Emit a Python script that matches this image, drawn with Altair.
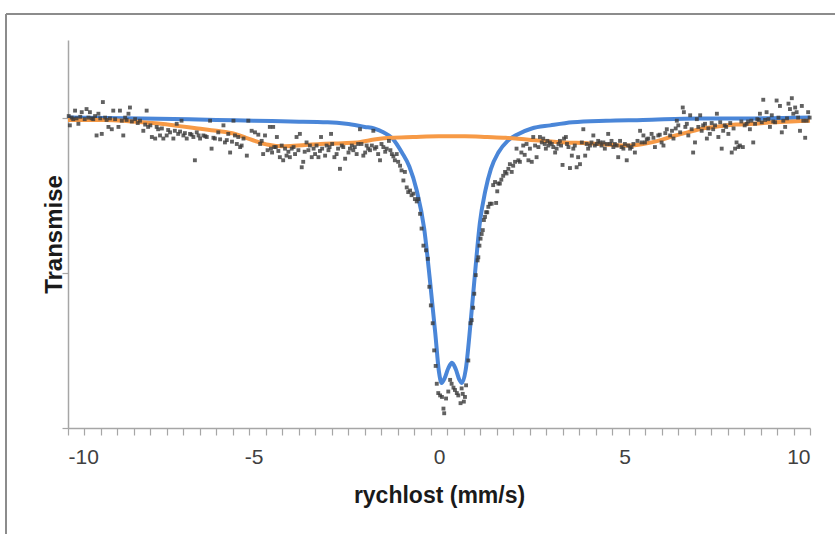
import altair as alt
import pandas as pd

# Measured spectrum (velocity mm/s, relative transmission %)
SCATTER_V = [
    -9.98, -9.95, -9.90, -9.86, -9.81, -9.77, -9.72, -9.67, -9.63, -9.55, -9.50, -9.45, -9.41, -9.36, -9.32,
    -9.27, -9.23, -9.18, -9.13, -9.09, -9.06, -9.00, -8.96, -8.91, -8.87, -8.82, -8.78, -8.73, -8.64, -8.60,
    -8.55, -8.51, -8.46, -8.42, -8.37, -8.33, -8.28, -8.19, -8.12, -8.06, -7.97, -7.92, -7.88, -7.84, -7.78,
    -7.74, -7.65, -7.61, -7.57, -7.52, -7.47, -7.43, -7.34, -7.30, -7.25, -7.16, -7.12, -7.07, -7.03, -6.98,
    -6.94, -6.89, -6.85, -6.80, -6.71, -6.67, -6.62, -6.58, -6.53, -6.48, -6.44, -6.35, -6.30, -6.26, -6.17,
    -6.13, -6.08, -6.04, -5.95, -5.90, -5.81, -5.77, -5.72, -5.68, -5.63, -5.58, -5.54, -5.50, -5.45, -5.41,
    -5.36, -5.32, -5.27, -5.18, -5.14, -5.05, -4.96, -4.87, -4.82, -4.78, -4.74, -4.69, -4.62, -4.56, -4.53,
    -4.50, -4.47, -4.44, -4.40, -4.37, -4.33, -4.29, -4.24, -4.20, -4.15, -4.11, -4.06, -4.02, -3.97, -3.92,
    -3.88, -3.84, -3.79, -3.75, -3.70, -3.66, -3.62, -3.57, -3.52, -3.48, -3.43, -3.38, -3.34, -3.30, -3.25,
    -3.21, -3.18, -3.15, -3.07, -3.03, -2.98, -2.95, -2.91, -2.88, -2.82, -2.76, -2.72, -2.67, -2.62, -2.58,
    -2.53, -2.44, -2.40, -2.35, -2.31, -2.27, -2.22, -2.18, -2.13, -2.09, -2.04, -1.99, -1.95, -1.91, -1.86,
    -1.81, -1.77, -1.73, -1.69, -1.64, -1.59, -1.55, -1.50, -1.45, -1.41, -1.35, -1.31, -1.27, -1.23, -1.19,
    -1.14, -1.10, -1.05, -1.01, -0.96, -0.92, -0.87, -0.83, -0.78, -0.74, -0.69, -0.65, -0.60, -0.56, -0.51,
    -0.47, -0.42, -0.35, -0.30, -0.26, -0.22, -0.17, -0.13, -0.09, -0.06, -0.02, 0.03, 0.08, 0.12, 0.14,
    0.19, 0.25, 0.30, 0.34, 0.39, 0.43, 0.48, 0.52, 0.58, 0.61, 0.64, 0.67, 0.70, 0.73, 0.79,
    0.85, 0.88, 0.92, 0.95, 0.99, 1.04, 1.06, 1.09, 1.12, 1.15, 1.18, 1.21, 1.24, 1.27, 1.30,
    1.33, 1.37, 1.42, 1.46, 1.51, 1.54, 1.57, 1.60, 1.64, 1.68, 1.73, 1.78, 1.82, 1.87, 1.91,
    1.96, 2.00, 2.05, 2.09, 2.14, 2.18, 2.22, 2.27, 2.31, 2.36, 2.41, 2.45, 2.50, 2.54, 2.59,
    2.63, 2.68, 2.72, 2.77, 2.81, 2.85, 2.88, 2.92, 2.95, 2.99, 3.04, 3.08, 3.13, 3.17, 3.22,
    3.26, 3.29, 3.33, 3.37, 3.42, 3.45, 3.49, 3.53, 3.58, 3.62, 3.66, 3.71, 3.75, 3.80, 3.85,
    3.89, 3.94, 3.98, 4.02, 4.07, 4.11, 4.16, 4.20, 4.25, 4.29, 4.34, 4.38, 4.43, 4.47, 4.52,
    4.56, 4.61, 4.65, 4.70, 4.74, 4.79, 4.83, 4.88, 4.92, 4.97, 5.01, 5.06, 5.10, 5.15, 5.19,
    5.24, 5.28, 5.35, 5.42, 5.46, 5.51, 5.55, 5.60, 5.64, 5.73, 5.78, 5.82, 5.91, 5.95, 6.00,
    6.05, 6.10, 6.14, 6.23, 6.28, 6.32, 6.38, 6.41, 6.45, 6.50, 6.57, 6.60, 6.64, 6.68, 6.72,
    6.77, 6.81, 6.85, 6.90, 6.95, 6.99, 7.04, 7.08, 7.12, 7.17, 7.22, 7.26, 7.30, 7.35, 7.39,
    7.44, 7.49, 7.53, 7.58, 7.62, 7.66, 7.70, 7.74, 7.80, 7.85, 7.89, 7.94, 7.98, 8.02, 8.07,
    8.11, 8.15, 8.19, 8.24, 8.29, 8.33, 8.38, 8.42, 8.47, 8.52, 8.58, 8.62, 8.65, 8.70, 8.74,
    8.79, 8.83, 8.88, 8.92, 8.97, 9.01, 9.06, 9.10, 9.15, 9.19, 9.24, 9.28, 9.33, 9.38, 9.42,
    9.46, 9.51, 9.55, 9.60, 9.64, 9.68, 9.73, 9.78, 9.82, 9.87, 9.91, 9.95, 9.99,
]
SCATTER_T = [
    100.02, 99.90, 100.00, 99.98, 100.09, 99.99, 99.92, 100.01, 100.07, 99.98, 100.11, 100.00, 100.07, 99.99, 99.98,
    100.02, 99.77, 100.05, 99.99, 99.79, 100.20, 100.00, 99.97, 99.88, 99.99, 99.85, 100.09, 99.98, 99.88, 100.09,
    99.96, 99.77, 100.00, 99.97, 100.05, 100.13, 99.95, 99.98, 99.93, 99.96, 99.83, 99.91, 100.09, 99.88, 99.90,
    99.75, 99.73, 99.88, 99.85, 99.77, 99.86, 99.73, 99.77, 99.84, 99.81, 99.73, 99.83, 99.92, 99.79, 99.82,
    99.96, 99.77, 99.80, 99.73, 99.79, 99.78, 99.75, 99.45, 99.81, 99.77, 99.73, 99.77, 99.76, 99.75, 99.96,
    99.60, 99.74, 99.73, 99.81, 99.72, 99.90, 99.68, 99.71, 99.79, 99.55, 99.69, 99.96, 99.77, 99.66, 99.75,
    99.62, 99.64, 99.73, 99.51, 99.96, 99.83, 99.81, 99.78, 99.66, 99.70, 99.53, 99.77, 99.58, 99.88, 99.60,
    99.55, 99.88, 99.62, 99.62, 99.75, 99.57, 99.49, 99.64, 99.45, 99.60, 99.51, 99.56, 99.49, 99.60, 99.62,
    99.53, 99.75, 99.58, 99.79, 99.36, 99.43, 99.56, 99.68, 99.58, 99.64, 99.49, 99.60, 99.53, 99.64, 99.49,
    99.57, 99.75, 99.60, 99.51, 99.64, 99.58, 99.62, 99.79, 99.66, 99.49, 99.53, 99.60, 99.34, 99.64, 99.62,
    99.47, 99.55, 99.60, 99.64, 99.58, 99.62, 99.53, 99.66, 99.85, 99.66, 99.51, 99.55, 99.64, 99.60, 99.58,
    99.64, 99.83, 99.60, 99.62, 99.53, 99.45, 99.66, 99.62, 99.56, 99.60, 99.70, 99.58, 99.53, 99.50, 99.45,
    99.53, 99.43, 99.38, 99.32, 99.19, 99.30, 99.10, 99.04, 99.06, 99.00, 99.02, 98.95, 98.92, 98.95, 98.76,
    98.57, 98.35, 98.29, 98.18, 97.82, 97.58, 97.35, 97.00, 96.80, 96.57, 96.45, 96.42, 96.40, 96.25, 96.19,
    96.38, 96.47, 96.62, 96.57, 96.52, 96.49, 96.45, 96.42, 96.32, 96.51, 96.44, 96.34, 96.40, 96.55, 96.87,
    97.35, 97.39, 97.55, 97.73, 97.97, 98.16, 98.20, 98.35, 98.44, 98.50, 98.55, 98.68, 98.72, 98.78, 98.78,
    98.85, 98.89, 98.89, 99.13, 99.17, 98.90, 99.05, 99.15, 99.15, 99.20, 99.25, 99.30, 99.28, 99.34, 99.40,
    99.30, 99.38, 99.43, 99.60, 99.45, 99.43, 99.55, 99.64, 99.52, 99.66, 99.45, 99.60, 99.43, 99.75, 99.64,
    99.49, 99.62, 99.75, 99.68, 99.73, 99.66, 99.60, 99.70, 99.64, 99.68, 99.66, 99.62, 99.55, 99.60, 99.66,
    99.70, 99.64, 99.39, 99.73, 99.75, 99.66, 99.62, 99.35, 99.51, 99.60, 99.64, 99.36, 99.49, 99.40, 99.68,
    99.85, 99.51, 99.66, 99.60, 99.64, 99.68, 99.77, 99.64, 99.66, 99.70, 99.68, 99.64, 99.68, 99.60, 99.66,
    99.79, 99.66, 99.70, 99.62, 99.66, 99.64, 99.49, 99.70, 99.62, 99.60, 99.66, 99.45, 99.64, 99.60, 99.62,
    99.66, 99.55, 99.70, 99.83, 99.68, 99.77, 99.68, 99.72, 99.73, 99.79, 99.74, 99.62, 99.77, 99.78, 99.68,
    99.64, 99.80, 99.85, 99.77, 99.83, 99.73, 99.86, 99.96, 99.90, 99.81, 100.13, 100.07, 99.88, 99.92, 99.77,
    100.03, 99.85, 99.55, 99.68, 99.98, 99.88, 100.03, 99.83, 99.90, 99.92, 99.73, 99.86, 99.79, 99.93, 99.85,
    99.90, 100.05, 99.75, 99.94, 99.60, 99.83, 99.90, 99.88, 99.79, 99.93, 99.55, 99.86, 99.60, 99.68, 99.62,
    99.64, 99.95, 99.62, 99.90, 99.92, 99.95, 99.85, 99.96, 99.68, 99.92, 99.98, 99.97, 100.05, 99.94, 100.23,
    99.97, 100.07, 99.98, 99.88, 100.03, 99.95, 99.94, 100.22, 100.00, 100.15, 99.81, 99.96, 99.88, 99.99, 100.18,
    100.11, 100.25, 100.05, 100.13, 100.07, 100.00, 99.83, 100.15, 99.96, 99.74, 99.96, 100.07, 100.00,
]

# Fitted doublet (blue)
BLUE_V = [-10, -8, -6, -5, -4, -3, -2.5, -2, -1.75, -1.5, -1.25, -1.0, -0.8, -0.6, -0.4, -0.25, -0.1,
          0.0, 0.07, 0.15, 0.25, 0.35, 0.45, 0.55, 0.62, 0.72, 0.85, 0.97, 1.1, 1.25, 1.4, 1.6, 1.85,
          2.1, 2.5, 3.0, 3.6, 4.5, 5.5, 7, 8.5, 10]
BLUE_T = [100.00, 99.99, 99.97, 99.96, 99.95, 99.94, 99.92, 99.88, 99.86, 99.81, 99.73, 99.55, 99.37,
          99.06, 98.57, 97.93, 97.22, 96.72, 96.58, 96.64, 96.77, 96.84, 96.76, 96.62, 96.58, 96.75,
          97.35, 97.99, 98.64, 99.06, 99.34, 99.55, 99.70, 99.78, 99.86, 99.90, 99.94, 99.96, 99.97,
          99.99, 99.99, 100.00]

# Fitted sextet (orange)
ORANGE_V = [-10, -9, -8.5, -8, -7.5, -7, -6.5, -6, -5.5, -5.2, -4.9, -4.6, -4.2, -3.8, -3.2, -2.6,
            -2.2, -1.7, -1.3, -0.7, 0, 0.7, 1.3, 1.8, 2.3, 2.8, 3.4, 4.0, 4.6, 5.1, 5.5, 5.9, 6.3,
            6.7, 7.1, 7.6, 8.0, 8.5, 9.0, 9.5, 10]
ORANGE_T = [99.97, 99.97, 99.96, 99.94, 99.92, 99.89, 99.86, 99.83, 99.79, 99.74, 99.69, 99.65,
            99.63, 99.64, 99.66, 99.67, 99.68, 99.72, 99.74, 99.75, 99.76, 99.76, 99.75, 99.74,
            99.72, 99.70, 99.68, 99.67, 99.65, 99.64, 99.66, 99.70, 99.76, 99.81, 99.86, 99.89,
            99.91, 99.92, 99.94, 99.95, 99.96]

X_LABELS = [-10, -5, 0, 5, 10]
Y_TICKS = [96, 98, 100]
X_DOMAIN = [-10, 10]
Y_DOMAIN = [96, 101]

FONT = "Liberation Sans"
AXIS_GREY = "#a6a6a6"

minor_ticks = [round(-10 + k * 20 / 45, 4) for k in range(46)]
x_tick_values = sorted(set(minor_ticks + X_LABELS))

scatter_df = pd.DataFrame({"v": SCATTER_V, "t": SCATTER_T})
blue_df = pd.DataFrame({"v": BLUE_V, "t": BLUE_T})
orange_df = pd.DataFrame({"v": ORANGE_V, "t": ORANGE_T})

x_scale = alt.Scale(domain=X_DOMAIN, nice=False, zero=False)
y_scale = alt.Scale(domain=Y_DOMAIN, nice=False, zero=False)

x_axis = alt.Axis(
    values=x_tick_values, tickCount=200,
    labelExpr="indexof([-10,-5,0,5,10], datum.value) >= 0 ? '' + datum.value : ''",
    tickOpacity={"condition": {"test": "datum.value == -5 || datum.value == 0 || datum.value == 5", "value": 0}, "value": 1},
    tickSize=7, tickColor=AXIS_GREY, domainColor=AXIS_GREY, domainWidth=1.5, tickWidth=1.2,
    grid=False, labelOverlap=False, labelFont=FONT, labelFontSize=21, labelColor="#404040",
    labelPadding=11, title="rychlost (mm/s)", titleFont=FONT, titleFontSize=23,
    titleFontWeight="bold", titleColor="#1a1a1a", titleBaseline="alphabetic", titleY=74,
)
y_axis = alt.Axis(
    values=Y_TICKS, tickCount=20, labels=False, tickSize=6, tickColor=AXIS_GREY, domainColor=AXIS_GREY,
    domainWidth=1.5, tickWidth=1.2, grid=False, title="Transmise", titleFont=FONT,
    titleFontSize=24, titleFontWeight="bold", titleColor="#1a1a1a", titleAngle=270,
    titleBaseline="alphabetic", titleAlign="center", titleX=-7, titleY=194,
)

base_x = alt.X("v:Q", scale=x_scale, axis=x_axis)
base_y = alt.Y("t:Q", scale=y_scale, axis=y_axis)

blue = alt.Chart(blue_df).mark_line(color="#4a86d8", strokeWidth=4, interpolate="monotone").encode(
    x=base_x, y=base_y)
orange = alt.Chart(orange_df).mark_line(color="#f79a46", strokeWidth=4, interpolate="monotone").encode(
    x="v:Q", y="t:Q")
points = alt.Chart(scatter_df).mark_square(size=15, color="#3a3a3a", opacity=0.8).encode(
    x="v:Q", y="t:Q")

frame_df = pd.DataFrame({"a": [0]})
frame_left = alt.Chart(frame_df).mark_rule(color="#8c8c8c", strokeWidth=2).encode(
    x=alt.value(-62), y=alt.value(-26), y2=alt.value(494))
frame_top = alt.Chart(frame_df).mark_rule(color="#8c8c8c", strokeWidth=2).encode(
    x=alt.value(-62), x2=alt.value(767), y=alt.value(-26))

chart = alt.layer(blue, orange, points, frame_left, frame_top).properties(
    width=742, height=388,
    autosize=alt.AutoSizeParams(type="none"),
    padding={"left": 68, "top": 40, "right": 25, "bottom": 106},
    background="white",
).configure_view(strokeWidth=0)

chart.save("out.html", embed_options={"renderer": "svg", "actions": False})
